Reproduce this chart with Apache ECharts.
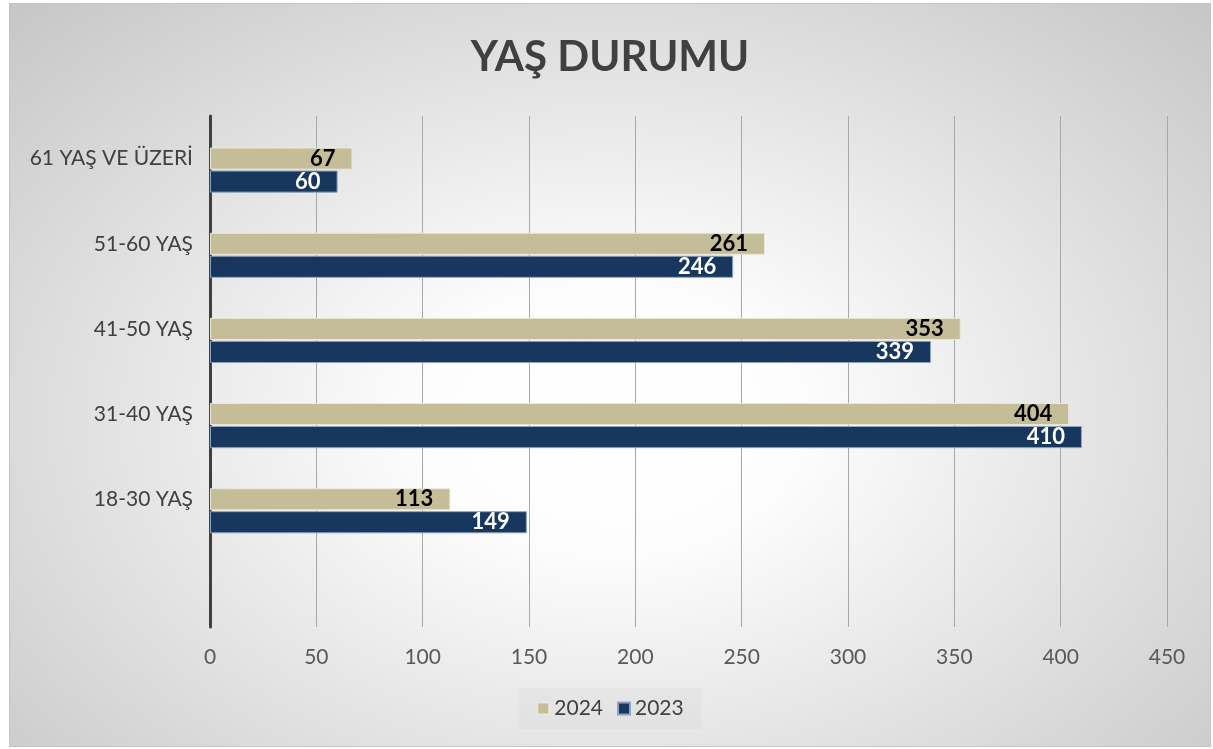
<!DOCTYPE html>
<html>
<head>
<meta charset="utf-8">
<script src="https://cdn.jsdelivr.net/npm/echarts@6/dist/echarts.min.js"></script>
<style>
    html, body { margin: 0; padding: 0; background: #ffffff; }
    #chart_main {
        position: absolute;
        left: 9px;
        top: 3px;
        width: 1200px;
        height: 742px;
        border: 1px solid #c4c4c4;
        background: radial-gradient(ellipse farthest-corner at 50% 56%, #ffffff 0%, #fdfdfd 22%, #c6c6c6 100%);
    }
</style>
</head>
<body>
<div id="chart_main"></div>
<script>
// kategoriler (alttan üste), ilk satır boş
var categories = ['', '18-30 YAŞ', '31-40 YAŞ', '41-50 YAŞ', '51-60 YAŞ', '61 YAŞ VE ÜZERİ'];
var values2024 = ['-', 113, 404, 353, 261, 67];
var values2023 = ['-', 149, 410, 339, 246, 60];
var valuesEmpty = ['-', '-', '-', '-', '-', '-'];
var xTicks = { min: 0, max: 450, interval: 50 };

var fontFam = 'Lato, "Open Sans", sans-serif';

var myChart = echarts.init(document.getElementById('chart_main'));
var option = {
    backgroundColor: 'transparent',
    title: {
        text: 'YAŞ DURUMU',
        left: 'center',
        top: 27,
        textStyle: { fontFamily: fontFam, fontSize: 42, fontWeight: 'bold', color: '#404040' }
    },
    legend: {
        data: ['2024', '2023'],
        bottom: 17,
        left: 'center',
        itemWidth: 12,
        itemHeight: 12,
        itemGap: 14,
        padding: [10, 18],
        backgroundColor: 'rgba(0,0,0,0.025)',
        icon: 'rect',
        textStyle: { fontFamily: fontFam, fontSize: 21, color: '#404040' }
    },
    grid: {
        left: 200,
        right: 43,
        top: 112,
        bottom: 119
    },
    xAxis: {
        type: 'value',
        min: xTicks.min,
        max: xTicks.max,
        interval: xTicks.interval,
        axisLine: { show: false },
        axisTick: { show: false },
        axisLabel: { fontFamily: fontFam, fontSize: 21, color: '#595959', margin: 20 },
        splitLine: { lineStyle: { color: '#a8a8a8', width: 1 } }
    },
    yAxis: {
        type: 'category',
        data: categories,
        axisLine: { lineStyle: { color: '#404040', width: 3 } },
        axisTick: { show: false },
        axisLabel: { fontFamily: fontFam, fontSize: 21, color: '#404040', margin: 17 },
        splitLine: { show: false }
    },
    series: [
        {
            name: 'bos',
            type: 'bar',
            data: valuesEmpty,
            barGap: '4%',
            barCategoryGap: '20%'
        },
        {
            name: '2024',
            type: 'bar',
            data: values2024,
            itemStyle: { color: '#c4bd97', borderColor: '#ebe8da', borderWidth: 1 },
            label: {
                show: true,
                position: 'insideRight',
                distance: 17,
                fontFamily: fontFam,
                fontSize: 22,
                fontWeight: 'bold',
                color: '#000000'
            }
        },
        {
            name: '2023',
            type: 'bar',
            data: values2023,
            itemStyle: { color: '#17375e', borderColor: '#8ea3be', borderWidth: 1 },
            label: {
                show: true,
                position: 'insideRight',
                distance: 17,
                fontFamily: fontFam,
                fontSize: 22,
                fontWeight: 'bold',
                color: '#ffffff'
            }
        }
    ]
};
myChart.setOption(option);
</script>
</body>
</html>
